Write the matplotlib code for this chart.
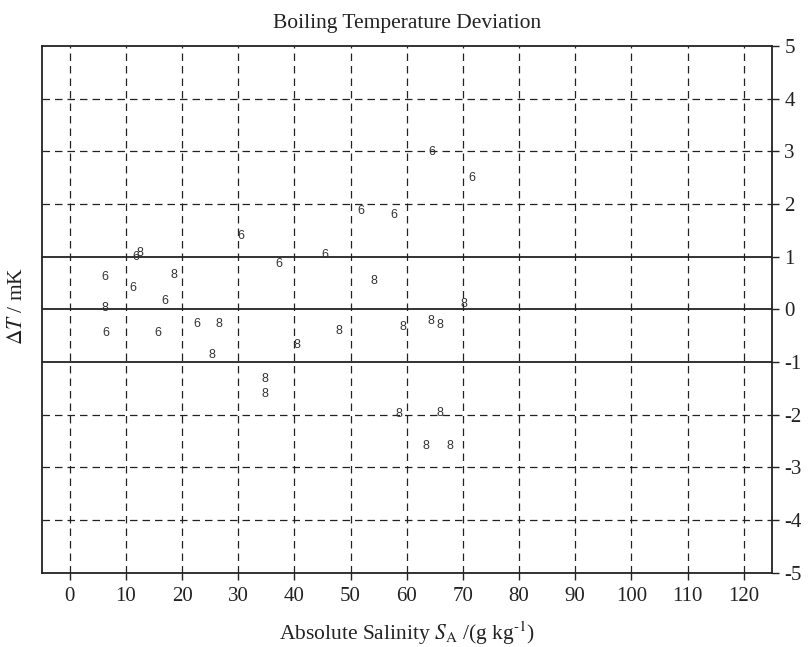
import matplotlib
matplotlib.use("Agg")
import matplotlib.pyplot as plt

plt.rcParams["font.family"] = ["Liberation Serif", "DejaVu Serif"]
plt.rcParams["mathtext.fontset"] = "stix"
plt.rcParams["axes.unicode_minus"] = False

# Deviations of the "6" series (salinity g/kg, deviation mK)
s6_sal = [30.4, 11.7, 6.2, 11.3, 16.9, 37.2, 6.4, 15.7, 22.6, 64.5, 71.6, 51.9, 57.8, 45.5]
s6_dev = [1.39, 1.00, 0.61, 0.40, 0.16, 0.87, -0.44, -0.44, -0.28, 2.99, 2.50, 1.87, 1.80, 1.04]

# Deviations of the "8" series
s8_sal = [12.5, 18.5, 6.3, 26.5, 25.4, 34.8, 34.8, 54.1, 70.2, 64.3, 66.0, 59.4,
          47.9, 40.4, 58.6, 66.0, 63.5, 67.7]
s8_dev = [1.07, 0.65, 0.03, -0.28, -0.87, -1.33, -1.61, 0.54, 0.11, -0.22, -0.30, -0.34,
          -0.41, -0.68, -1.99, -1.96, -2.59, -2.60]

x_ticks = list(range(0, 121, 10))
y_ticks = list(range(-5, 6))
solid_levels = [-1, 0, 1]

fig = plt.figure(figsize=(8.09, 6.47), dpi=100)
ax = fig.add_axes([0.0515, 0.1148, 0.9025, 0.8141])
ax.set_xlim(-5, 125)
ax.set_ylim(-5, 5)

ink = "#222222"
dash = (0, (6, 4))
for xv in x_ticks:
    ax.axvline(xv, color=ink, lw=0.9, ls=dash, zorder=1)
for yv in y_ticks:
    if yv in solid_levels:
        ax.axhline(yv, color=ink, lw=1.3, ls="-", zorder=1)
    elif -5 < yv < 5:
        ax.axhline(yv, color=ink, lw=0.9, ls=dash, zorder=1)

for x, y in zip(s6_sal, s6_dev):
    ax.text(x, y, "6", ha="center", va="center", fontsize=9,
            family="Liberation Sans", color="#333333", zorder=3)
for x, y in zip(s8_sal, s8_dev):
    ax.text(x, y, "8", ha="center", va="center", fontsize=9,
            family="Liberation Sans", color="#333333", zorder=3)

ax.set_xticks(x_ticks)
ax.set_yticks(y_ticks)
ax.yaxis.tick_right()
ax.tick_params(axis="x", direction="out", length=5, width=1, color=ink,
               labelsize=15, pad=5, labelcolor=ink)
ax.tick_params(axis="y", direction="out", length=5, width=1, color=ink,
               labelsize=15, pad=4, labelcolor=ink, left=False, right=True)

for sp in ax.spines.values():
    sp.set_linewidth(1.3)
    sp.set_color(ink)

ax.set_title("Boiling Temperature Deviation", fontsize=15.5, color=ink, pad=13)
ax.set_xlabel(r"Absolute Salinity $S_{\mathrm{A}}$ /(g kg$^{\text{-1}}$)",
              fontsize=15.5, color=ink, labelpad=10)
fig.text(0.022, 0.527, r"$\Delta T$ / mK", rotation=90, ha="center", va="center",
         fontsize=15.5, color=ink)

fig.savefig("out.png", dpi=100)
